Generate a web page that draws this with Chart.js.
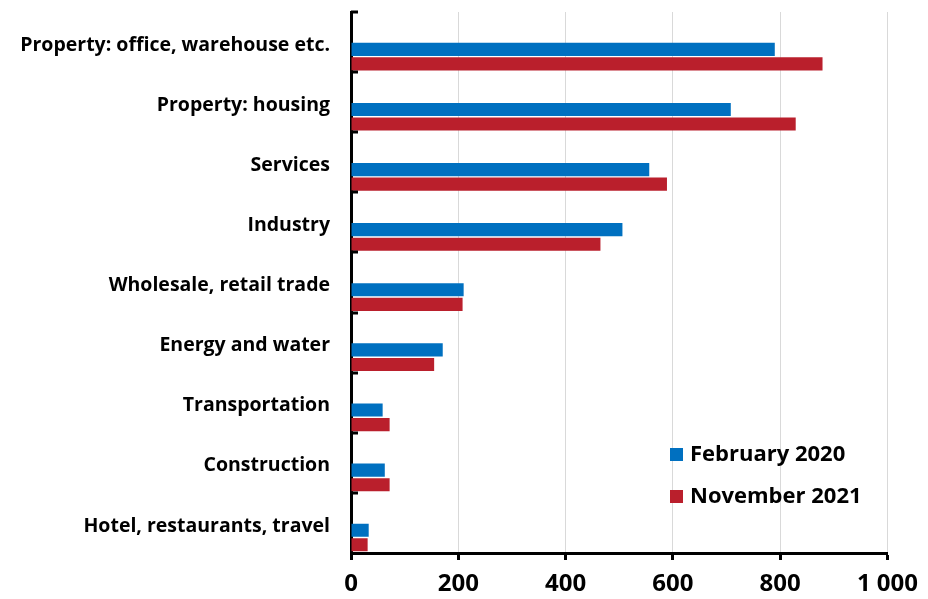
<!DOCTYPE html>
<html>
<head>
<meta charset="utf-8">
<script src="https://cdn.jsdelivr.net/npm/chart.js@4"></script>
<style>
  body { margin: 0; background: #fff; }
  #wrap { width: 928px; height: 599px; position: relative; }
</style>
</head>
<body>
<div id="wrap"><canvas id="sectors"></canvas></div>
<script>
var categories = [
    'Property: office, warehouse etc.',
    'Property: housing',
    'Services',
    'Industry',
    'Wholesale, retail trade',
    'Energy and water',
    'Transportation',
    'Construction',
    'Hotel, restaurants, travel'
];
var feb2020 = [790, 708, 556, 506, 210, 171, 59, 63, 33];//blue
var nov2021 = [879, 829, 589, 465, 208, 155, 72, 72, 31];//red
var xTickLabels = ['0', '200', '400', '600', '800', '1 000'];

var blue = '#0070c0';
var red = '#ba1f2c';
var font = '"Open Sans", sans-serif';

// two empty series so the real bars sit in the lower half of each band (like the excel original)
var spacer = { label: '', data: [], backgroundColor: 'rgba(0,0,0,0)', spacer: true };

// little inward ticks on the left axis + legend inside the plot
var extras = {
    id: 'extras',
    afterDraw: function(chart) {
        var c = chart.ctx, a = chart.chartArea;
        var n = categories.length, band = (a.bottom - a.top) / n;
        c.save();
        c.fillStyle = '#000';
        for (var i = 0; i < n; i++) {
            c.fillRect(a.left, Math.round(a.top + i * band) - 1.5, 7, 3);
        }
        // legend
        var items = chart.data.datasets.filter(function(d) { return !d.spacer; });
        c.font = 'bold 22px ' + font;
        c.textBaseline = 'middle';
        items.forEach(function(d, k) {
            var y = a.bottom - 99 + k * 42;
            c.fillStyle = d.backgroundColor;
            c.fillRect(a.left + 319, y - 6, 13, 13);
            c.fillStyle = '#000';
            c.fillText(d.label, a.left + 339, y + 1);
        });
        c.restore();
    }
};

var ctx = document.getElementById('sectors').getContext('2d');
var chart = new Chart(ctx, {
    type: 'bar',
    data: {
        labels: categories,
        datasets: [
            spacer,
            Object.assign({}, spacer),
            { label: 'February 2020', data: feb2020, backgroundColor: blue },
            { label: 'November 2021', data: nov2021, backgroundColor: red }
        ]
    },
    options: {
        indexAxis: 'y',
        responsive: true,
        maintainAspectRatio: false,
        animation: false,
        categoryPercentage: 0.97,
        barPercentage: 0.9,
        layout: { padding: { top: 12, right: 40, left: 0, bottom: 0 } },
        plugins: { legend: { display: false }, tooltip: { enabled: false } },
        scales: {
            x: {
                min: 0,
                max: 1000,
                afterFit: function(s) { s.height = 46; },
                grid: {
                    color: '#d9d9d9',
                    lineWidth: 1,
                    tickColor: '#000',
                    tickWidth: 3,
                    tickLength: 7
                },
                border: { color: '#000', width: 3 },
                ticks: {
                    stepSize: 200,
                    padding: 10,
                    color: '#000',
                    font: { family: font, size: 24, weight: 'bold' },
                    callback: function(v, i) { return xTickLabels[i]; }
                }
            },
            y: {
                afterFit: function(s) { s.width = 351; s.paddingTop = 0; s.paddingBottom = 0; },
                grid: { display: false },
                border: { color: '#000', width: 3 },
                ticks: {
                    padding: 13,
                    labelOffset: 3,
                    color: '#000',
                    font: { family: font, size: 19.5, weight: 'bold' }
                }
            }
        }
    },
    plugins: [extras]
});
</script>
</body>
</html>
